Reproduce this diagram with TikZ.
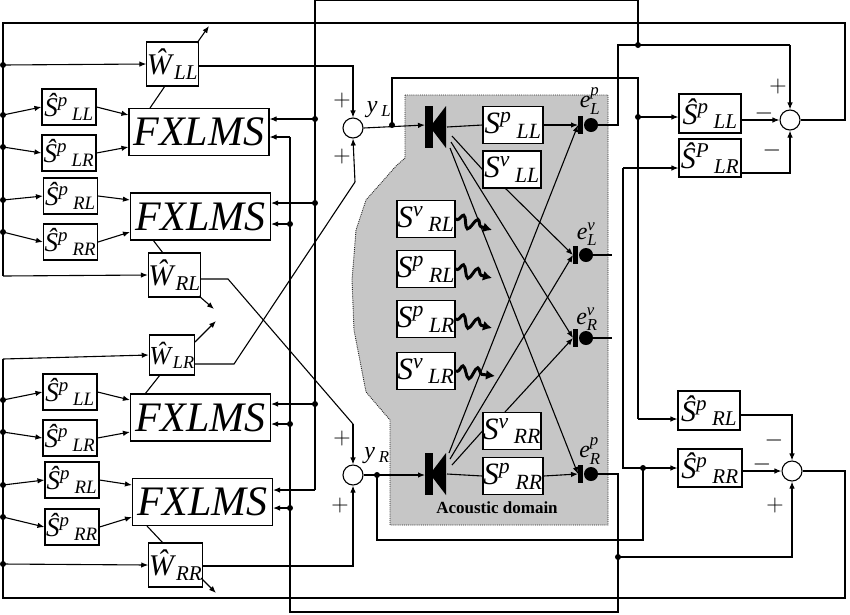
\documentclass[tikz,border=0pt]{standalone}
\usepackage{fix-cm}
\usepackage{amsmath}
\usepackage{fontspec}
\setmainfont{Liberation Serif}
\usetikzlibrary{arrows.meta,decorations.pathmorphing}
\newcommand\Tsx[3]{\textit{#1}\textsuperscript{\textit{#2}}\,\textsubscript{\textit{#3}}}
\newcommand\Tst[3]{$\text{\itshape #1}^{\text{\itshape #2}}_{\text{\itshape #3}}$}
\begin{document}
\begin{tikzpicture}[x=1pt,y=-1pt,line width=1.1pt,
  >={Latex[length=7pt,width=5.5pt]},
  box/.style={draw,fill=white,inner sep=0pt,font=\fontsize{27}{27}\selectfont},
  fx/.style={box,minimum width=140pt,minimum height=47pt,font=\fontsize{42}{42}\selectfont\itshape},
  sum/.style={draw,circle,fill=white,minimum size=20pt,inner sep=0pt},
  dot/.style={circle,fill,inner sep=0pt,minimum size=6pt},
  lbl/.style={font=\fontsize{24}{24}\selectfont},
  wig/.style={line width=3pt,decorate,decoration={snake,amplitude=6pt,segment length=15pt,pre length=2pt,post length=8pt},-{Latex[length=9pt,width=10pt]}}]
\useasboundingbox (0,0) rectangle (850,614);
% acoustic domain
\fill[gray!45] (405,95) -- (608,95) -- (608,525) -- (390,525) -- (390,420) -- (366,392) -- (354,330) -- (352,280) -- (356,230) -- (366,200) -- (396,166) -- (405,158) -- cycle;
\draw[densely dotted,gray!30!black,line width=0.9pt] (405,95) -- (608,95) -- (608,525) -- (390,525) -- (390,420) -- (366,392) -- (354,330) -- (352,280) -- (356,230) -- (366,200) -- (396,166) -- (405,158) -- cycle;
\node[font=\bfseries\fontsize{17}{17}\selectfont] (ad) at (497,508) {Acoustic domain};

% left boxes
\tikzset{wb/.style={box,font=\fontsize{30}{30}\selectfont}}
\node[wb,minimum width=49pt,minimum height=44pt] (wLL) at (172.5,64) {\textit{\^W}\textsubscript{\textit{LL}}};
\node[wb,minimum width=49pt,minimum height=44pt] (wRL) at (174.5,275) {\textit{\^W}\textsubscript{\textit{RL}}};
\node[wb,minimum width=45pt,minimum height=40pt,font=\fontsize{26}{26}\selectfont] (wLR) at (172,355) {\textit{\^W}\textsubscript{\textit{LR}}};
\node[wb,minimum width=51pt,minimum height=44pt] (wRR) at (175.5,565) {\textit{\^W}\textsubscript{\textit{RR}}};
\foreach \n/\x/\y/\s in {a1/69/107/LL,a2/69/153/LR,a3/70.5/196/RL,a4/70.5/242/RR,b1/70/392/LL,b2/70/438/LR,b3/72/480/RL,b4/72/527/RR}
  \node[box,minimum width=54pt,minimum height=36pt] (\n) at (\x,\y) {\Tsx{\^S}{p}{\s}};
\node[fx] (F1) at (199,132) {FXLMS};
\node[fx] (F2) at (200.5,216.5) {FXLMS};
\node[fx] (F3) at (200.5,417.5) {FXLMS};
\node[fx] (F4) at (202.5,502) {FXLMS};

% sums
\node[sum] (sL) at (353,128) {};
\node[sum] (sR) at (353,475) {};
\node[sum] (sA) at (790,120) {};
\node[sum] (sB) at (792,471) {};
\node[lbl] at (342,100) {$+$};
\node[lbl] at (342,156) {$+$};
\node[lbl] at (379,110) {\textit{y}\,\textsubscript{\textit{L}}};
\node[lbl] at (342,438) {$+$};
\node[lbl] at (340,505) {$+$};
\node[lbl] at (377,456) {\textit{y}\,\textsubscript{\textit{R}}};
\node[lbl] at (778,86) {$+$};
\node[lbl] at (764,113) {$-$};
\node[lbl] at (772,150) {$-$};
\node[lbl] at (774,440) {$-$};
\node[lbl] at (762,464) {$-$};
\node[lbl] at (775,505) {$+$};

% right boxes
\tikzset{rb/.style={box,font=\fontsize{30}{30}\selectfont}}
\node[rb,minimum width=62pt,minimum height=39pt] (rA) at (710,113.5) {\Tsx{\^S}{p}{LL}};
\node[rb,minimum width=62pt,minimum height=38pt] (rB) at (710,158) {\Tsx{\^S}{P}{LR}};
\node[rb,minimum width=62pt,minimum height=39pt] (rC) at (709,410.5) {\Tsx{\^S}{p}{RL}};
\node[rb,minimum width=64pt,minimum height=38pt] (rD) at (710,468) {\Tsx{\^S}{p}{RR}};

% acoustic boxes
\tikzset{ab/.style={box,minimum width=60pt,minimum height=37pt,font=\fontsize{31}{31}\selectfont}}
\node[ab] (pLL) at (513,125) {\Tsx{S}{p}{LL}};
\node[ab,minimum width=58pt] (vLL) at (512,169.5) {\Tsx{S}{v}{LL}};
\node[ab,minimum width=58pt] (vRL) at (426,219) {\Tsx{S}{v}{RL}};
\node[ab,minimum width=58pt] (pRL) at (426,269) {\Tsx{S}{p}{RL}};
\node[ab,minimum width=58pt] (pLR) at (426,319) {\Tsx{S}{p}{LR}};
\node[ab,minimum width=58pt] (vLR) at (426,371) {\Tsx{S}{v}{LR}};
\node[ab,minimum width=58pt] (vRR) at (512,431) {\Tsx{S}{v}{RR}};
\node[ab] (pRR) at (513,476) {\Tsx{S}{p}{RR}};

% speakers
\coordinate (spL) at (447,127);
\coordinate (spR) at (447,474);
\fill (425,106) rectangle (433,148); \fill (430,127) -- (446,106) -- (446,148) -- cycle;
\fill (425,453) rectangle (433,495); \fill (430,474) -- (446,453) -- (446,495) -- cycle;
% mics
\coordinate (mLp) at (578,125);
\coordinate (mLv) at (573,255);
\coordinate (mRv) at (573,338);
\coordinate (mRp) at (578,474);
\foreach \c in {mLp,mLv,mRv,mRp}{
  \fill ([shift={(0,-9)}]\c) rectangle ([shift={(5,9)}]\c);
  \fill ([shift={(13,0)}]\c) circle (7);}
\node[lbl] at (590,101) {\Tst{e}{p}{L}};
\node[lbl] at (587,234) {\Tst{e}{v}{L}};
\node[lbl] at (587,319) {\Tst{e}{v}{R}};
\node[lbl] at (590,451) {\Tst{e}{p}{R}};

% acoustic paths
\draw (spL) -- (pLL.west); \draw[->] (pLL.east) -- (mLp);
\draw (spR) -- (pRR.west); \draw[->] (pRR.east) -- (mRp);
\draw (452,136) -- (vLL.west); \draw[->] (505,188) -- (mLv);
\draw (452,465) -- (vRR.west); \draw[->] (505,412) -- (mRv);
\draw[->] (451,142) -- (mRv);
\draw[->] (450,148) -- (mRp);
\draw[->] (450,459) -- (mLv);
\draw[->] (449,453) -- (mLp);
\draw[wig] (vRL.east) -- (492,230);
\draw[wig] (pRL.east) -- (492,278);
\draw[wig] (pLR.east) -- (492,328);
\draw[wig] (vLR.east) -- (495,376);
\draw (mLv)++(18,0) -- (612,255);
\draw (mRv)++(18,0) -- (612,338);

% left wiring top
\draw (sA.east) -- (845,120) -- (845,23) -- (3,23) -- (3,276);
\draw[->] (3,276) -- (wRL.west);
\foreach \y/\n in {115/a1,147/a2,200/a3,232/a4}{\node[dot] at (3,\y) {}; \draw[->] (3,\y) -- (\n.west);}
\node[dot] at (3,65) {}; \draw[->] (3,65) -- (wLL.west);
\draw[->] (a1.east) -- (F1.west |- 0,115); \draw[->] (a2.east) -- (F1.west |- 0,147);
\draw[->] (a3.east) -- (F2.west |- 0,200); \draw[->] (a4.east) -- (F2.west |- 0,232);
\draw (150,108) -- (165,86); \draw[->] (197,43) -- (209,26);
\draw (153,240) -- (163,253); \draw[->] (199,296) -- (214,309);
\draw[->] (wLL.east |- 0,66) -- (353,66) -- (sL.north);
\draw (wRL.east |- 0,279) -- (228,279) -- (353,424);
\draw[->] (353,424) -- (sR.north);
% left wiring bottom
\draw (sB.east) -- (845,471) -- (845,598) -- (3,598) -- (3,359);
\draw[->] (3,359) -- (wLR.west);
\foreach \y/\n in {400/b1,432/b2,485/b3,517/b4}{\node[dot] at (3,\y) {}; \draw[->] (3,\y) -- (\n.west);}
\node[dot] at (3,564) {}; \draw[->] (3,564) -- (wRR.west);
\draw[->] (b1.east) -- (F3.west |- 0,400); \draw[->] (b2.east) -- (F3.west |- 0,432);
\draw[->] (b3.east) -- (F4.west |- 0,485); \draw[->] (b4.east) -- (F4.west |- 0,517);
\draw (160,375) -- (145,394); \draw[->] (195,342) -- (216,321);
\draw (147,526) -- (163,543); \draw[->] (201,578) -- (216,593);
\draw (wLR.east |- 0,364) -- (234,364) -- (355,182);
\draw[->] (355,182) -- (sL.south);
\draw[->] (wRR.east |- 0,566) -- (353,566) -- (sR.south);

% vertical feedback x=315
\draw (638,45) -- (638,0) -- (315,0) -- (315,490);
\draw[->] (315,490) -- (F4.east |- 0,490);
\foreach \y/\n in {119/F1,203/F2,404/F3}{\node[dot] at (315,\y) {}; \draw[->] (315,\y) -- (\n.east |- 0,\y);}
% vertical x=290
\draw (mRp)++(20,0) -- (618,474) -- (618,612) -- (290,612) -- (290,137);
\draw[->] (290,137) -- (F1.east |- 0,137);
\foreach \y/\n in {224/F2,424/F3,508/F4}{\node[dot] at (290,\y) {}; \draw[->] (290,\y) -- (\n.east |- 0,\y);}
\node[dot] at (618,557) {}; \draw[->] (618,557) -- (792,557) -- (sB.south);

% y_L, y_R
\draw[->] (sL.east) -- (425,125);
\node[dot] at (392,125) {};
\draw (392,125) -- (392,78) -- (638,78) -- (638,419);
\node[dot] at (638,117) {};
\draw[->] (638,117) -- (rA.west |- 0,117);
\draw[->] (638,419) -- (rC.west |- 0,419);
\draw[->] (sR.east) -- (425,475);
\node[dot] at (377,475) {};
\draw (377,475) -- (377,540) -- (643,540) -- (643,468);
\node[dot] at (643,468) {};
\draw[->] (643,468) -- (rD.west |- 0,468);
\draw (643,468) -- (623,468) -- (623,168);
\draw[->] (623,168) -- (rB.west |- 0,168);
% e_L^p
\draw (mLp)++(20,0) -- (618,125) -- (618,45) -- (790,45);
\draw[->] (790,45) -- (sA.north);
\node[dot] at (638,45) {};
% right sums
\draw[->] (rA.east |- 0,120) -- (sA.west);
\draw[->] (rB.east |- 0,173) -- (790,173) -- (sA.south);
\draw[->] (rC.east |- 0,415) -- (792,415) -- (sB.north);
\draw[->] (rD.east |- 0,471) -- (sB.west);
\end{tikzpicture}
\end{document}
